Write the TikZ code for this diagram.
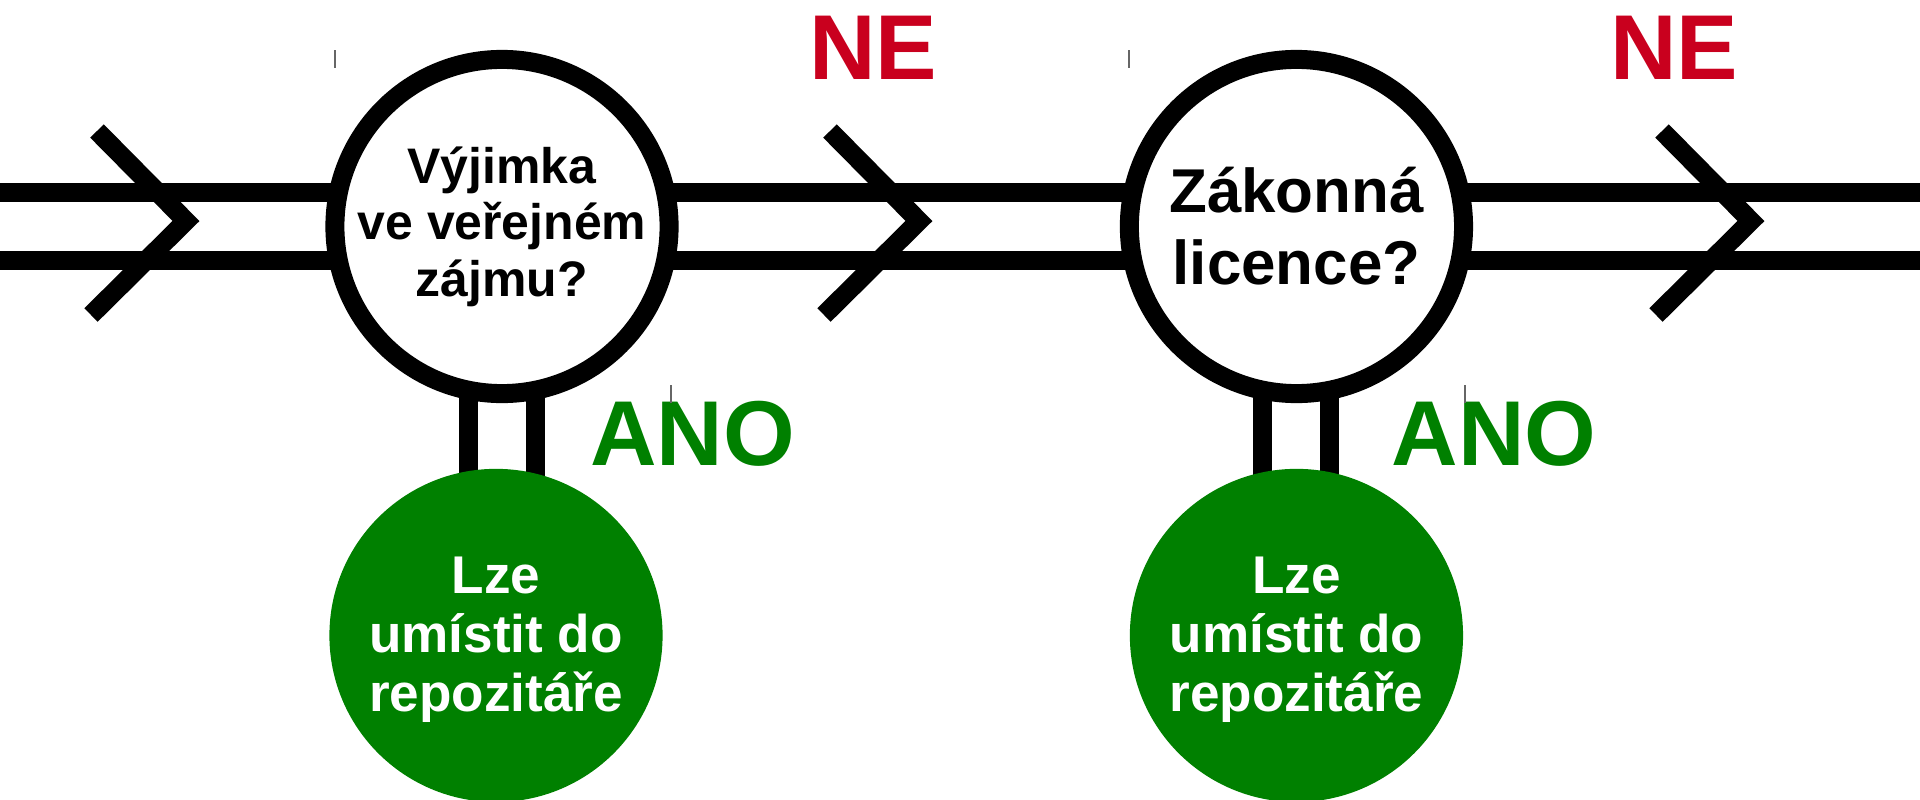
\documentclass[tikz,border=0pt]{standalone}
\usepackage{fontspec}
\setmainfont{Liberation Sans}
\usetikzlibrary{positioning,calc,backgrounds}
\definecolor{neRed}{RGB}{201,0,30}
\definecolor{anoGreen}{RGB}{0,128,0}
\tikzset{question/.style={circle,draw=black,fill=white,line width=0.19cm,minimum size=3.34cm,inner sep=0pt,align=center}}
\tikzset{answer/.style={circle,fill=anoGreen,text=white,minimum size=3.33cm,inner sep=0pt,align=center,font=\fontsize{15.1}{16.9}\selectfont\bfseries}}
\tikzset{verdict/.style={inner sep=0pt,font=\fontsize{26.2}{30}\selectfont\bfseries}}
\tikzset{rail/.style={line width=0.19cm}}
\tikzset{chevron/.style={line width=0.19cm,miter limit=10}}
\tikzset{cursor/.style={draw=black!60,line width=0.015cm}}

\begin{document}
\begin{tikzpicture}[x=0.01cm,y=-0.01cm]
\useasboundingbox (0,0) rectangle (1920,800);
\begin{scope}[node distance=0.65cm]
	\node (q1) [question,font=\fontsize{14.2}{16.1}\selectfont\bfseries] at (502,226.5) {Výjimka\\ve veřejném\\zájmu?} ;
	\node (q2) [question,font=\fontsize{17.6}{20.5}\selectfont\bfseries,right=4.41cm of q1] {Zákonná\\licence?} ;
	\node (a1) [answer, below =of q1, xshift=-0.06cm] {\rule{0pt}{0.45cm}Lze\\umístit do\\repozitáře} ;
	\node (a2) [answer, below =of q2] {\rule{0pt}{0.45cm}Lze\\umístit do\\repozitáře} ;
\end{scope}
\coordinate (in) at (0,226.5) ;
\coordinate (out) at (1920,226.5) ;
% double track, hidden under the circles
\begin{scope}[on background layer]
	\foreach \dy in {-34,34} {
		\draw[rail] ($(in)+(0,\dy)$) -- ($(q1.center)+(0,\dy)$) ;
		\draw[rail] ($(q1.center)+(0,\dy)$) -- ($(q2.center)+(0,\dy)$) ;
		\draw[rail] ($(q2.center)+(0,\dy)$) -- ($(out)+(0,\dy)$) ;
	}
	\foreach \dx in {-33.5,33.5} {
		\draw[rail] ($(q1.center)+(\dx,0)$) -- ($(q1.center|-a1.center)+(\dx,0)$) ;
		\draw[rail] ($(q2.center)+(\dx,0)$) -- ($(q2.center|-a2.center)+(\dx,0)$) ;
	}
\end{scope}
\foreach \x in {186,919,1751}
	\draw[chevron] (\x-89,131) -- (\x,221) -- (\x-95,315) ;
\node (ne1) [verdict,text=neRed] at (873,48) {NE} ;
\node (ne2) [verdict,text=neRed] at (1674,48) {NE} ;
\node (ano1) [verdict,text=anoGreen] at (692.5,433.5) {ANO} ;
\node (ano2) [verdict,text=anoGreen] at (1494,433.5) {ANO} ;
\foreach \p in {(335,50),(1129,50),(671,385),(1465,385)}
	\draw[cursor] \p -- ++(0,18) ;
\end{tikzpicture}
\end{document}
